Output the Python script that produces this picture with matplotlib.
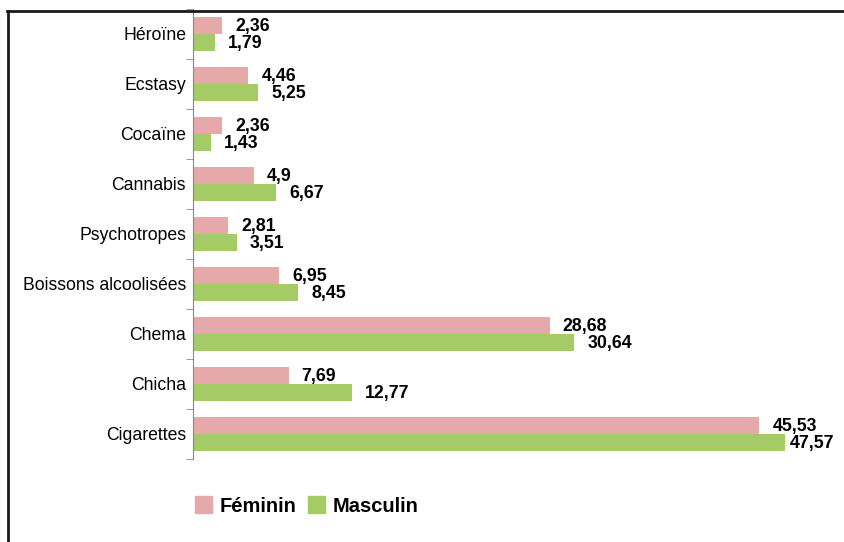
import numpy as np
import matplotlib.pyplot as plt
from matplotlib.lines import Line2D
from matplotlib.patches import Patch

plt.rcParams['font.family'] = ['Liberation Sans', 'DejaVu Sans']

categories = ["Héroïne", "Ecstasy", "Cocaïne", "Cannabis", "Psychotropes",
              "Boissons alcoolisées", "Chema", "Chicha", "Cigarettes"]
feminin = [2.36, 4.46, 2.36, 4.9, 2.81, 6.95, 28.68, 7.69, 45.53]
masculin = [1.79, 5.25, 1.43, 6.67, 3.51, 8.45, 30.64, 12.77, 47.57]

c_fem = "#E4A9A8"
c_mas = "#A5CB66"

W, H = 844, 542
fig = plt.figure(figsize=(W / 100, H / 100), dpi=100)
ax = fig.add_axes([193 / W, 1 - 459 / H, (815 - 193) / W, (459 - 9) / H])

y = np.arange(len(categories))
h = 0.34
b1 = ax.barh(y - h / 2, feminin, height=h, color=c_fem, label="Féminin")
b2 = ax.barh(y + h / 2, masculin, height=h, color=c_mas, label="Masculin")

ax.set_xlim(0, 50)
ax.set_ylim(len(categories) - 0.5, -0.5)
ax.set_yticks(y)
ax.set_yticklabels(categories, fontsize=12.7)
ax.set_yticks(np.arange(-0.5, len(categories), 1), minor=True)
ax.tick_params(axis="y", which="major", length=0, pad=5)
ax.tick_params(axis="y", which="minor", length=5, color="#888888")
ax.set_xticks([])
for s in ("top", "right", "bottom"):
    ax.spines[s].set_visible(False)
ax.spines["left"].set_color("#888888")

def lab(v):
    return str(v).replace(".", ",")

# value labels, kept inside the picture like the original
renderer = fig.canvas.get_renderer()
for bars, vals in ((b1, feminin), (b2, masculin)):
    for r, v in zip(bars, vals):
        t = ax.annotate(lab(v), (r.get_width(), r.get_y() + r.get_height() / 2),
                        xytext=(13, -1), textcoords="offset pixels",
                        ha="left", va="center", fontsize=12.8, fontweight="bold")
        bb = t.get_window_extent(renderer)
        if bb.x1 > 834:
            t.set_position((13 - (bb.x1 - 834), -1))

# figure frame (left and top edges visible)
fig.add_artist(Line2D([7.5 / W, 7.5 / W], [0, 1 - 10.5 / H], color="#1a1a1a", lw=2,
                      transform=fig.transFigure))
fig.add_artist(Line2D([6.5 / W, 1], [1 - 10.5 / H, 1 - 10.5 / H], color="#1a1a1a", lw=2,
                      transform=fig.transFigure))

handles = [Patch(color=c_fem), Patch(color=c_mas)]
fig.legend(handles, ["Féminin", "Masculin"], loc="center left",
           bbox_to_anchor=(177 / W, 1 - 506 / H), ncol=2, frameon=False,
           handlelength=0.85, handleheight=0.85, handletextpad=0.35,
           columnspacing=0.6, prop={"size": 14.5, "weight": "bold"})

fig.savefig("out.png", dpi=100)
